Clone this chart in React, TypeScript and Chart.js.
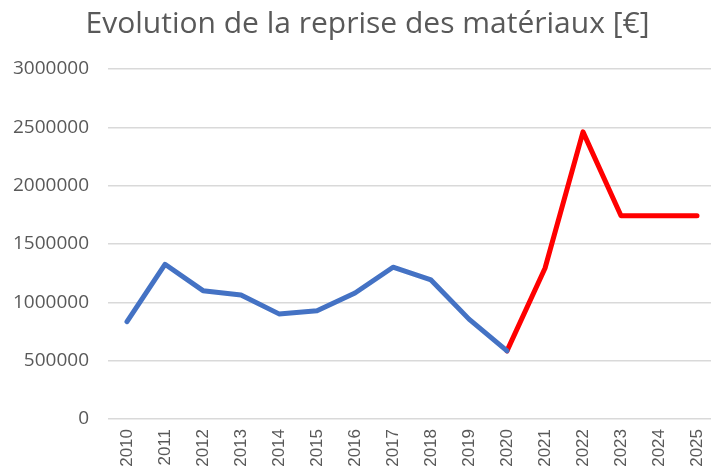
import React, { useEffect, useRef } from "react";
import { Chart, registerables } from "chart.js";

Chart.register(...registerables);

const TITLE = "Evolution de la reprise des matériaux [€]";
const YEARS = ["2010", "2011", "2012", "2013", "2014", "2015", "2016", "2017", "2018", "2019", "2020", "2021", "2022", "2023", "2024", "2025"];
const HISTORIC = [835000, 1326000, 1100000, 1063000, 901000, 927000, 1080000, 1301000, 1192000, 856000, 584000, null, null, null, null, null];
const FORECAST = [null, null, null, null, null, null, null, null, null, null, 584000, 1292000, 2461000, 1742000, 1742000, 1742000];
const Y_MIN = 0;
const Y_MAX = 3000000;
const Y_STEP = 500000;

const CANVAS_W = 735;
const CANVAS_H = 480;

export default function App() {
  const ref = useRef<HTMLCanvasElement | null>(null);

  useEffect(() => {
    if (!ref.current) return;
    const chart = new Chart(ref.current, {
      type: "line",
      data: {
        labels: YEARS,
        datasets: [
          {
            label: "Historique",
            data: HISTORIC,
            borderColor: "#4472C4",
            backgroundColor: "#4472C4",
            borderWidth: 5,
            pointRadius: 0,
            tension: 0,
            borderJoinStyle: "round",
            borderCapStyle: "round",
            spanGaps: false,
          },
          {
            label: "Prévision",
            data: FORECAST,
            borderColor: "#FF0000",
            backgroundColor: "#FF0000",
            borderWidth: 5,
            pointRadius: 0,
            tension: 0,
            borderJoinStyle: "round",
            borderCapStyle: "round",
            spanGaps: false,
          },
        ],
      },
      options: {
        responsive: false,
        maintainAspectRatio: false,
        animation: false,
        layout: { padding: 0 },
        plugins: {
          legend: { display: false },
          tooltip: { enabled: false },
          title: {
            display: true,
            text: TITLE,
            color: "#595959",
            font: { family: "'Open Sans', sans-serif", size: 30, weight: "normal" },
            padding: { top: 6, bottom: 27 },
          },
        },
        scales: {
          x: {
            offset: true,
            grid: { display: false, drawTicks: false },
            border: { display: false },
            ticks: {
              color: "#595959",
              font: { family: "'Liberation Sans', Arial, sans-serif", size: 17 },
              minRotation: 90,
              maxRotation: 90,
              autoSkip: false,
              padding: 10,
            },
            afterFit: (scale: any) => {
              scale.height = CANVAS_H - 419;
              scale.paddingLeft = 0;
              scale.paddingRight = 19;
            },
          },
          y: {
            min: Y_MIN,
            max: Y_MAX,
            grid: { color: "#d9d9d9", lineWidth: 1.5, drawTicks: false },
            border: { display: false },
            ticks: {
              stepSize: Y_STEP,
              color: "#595959",
              font: { family: "'Open Sans', sans-serif", size: 19 },
              padding: 19,
              callback: (v: any) => String(v),
            },
            afterFit: (scale: any) => {
              scale.width = 108;
            },
          },
        },
      },
    });
    return () => chart.destroy();
  }, []);

  return (
    <div style={{ position: "fixed", left: 0, top: 0, width: 711, height: 470, overflow: "hidden", background: "#fff" }}>
      <canvas ref={ref} width={CANVAS_W} height={CANVAS_H} style={{ display: "block", width: CANVAS_W, height: CANVAS_H }} />
    </div>
  );
}
